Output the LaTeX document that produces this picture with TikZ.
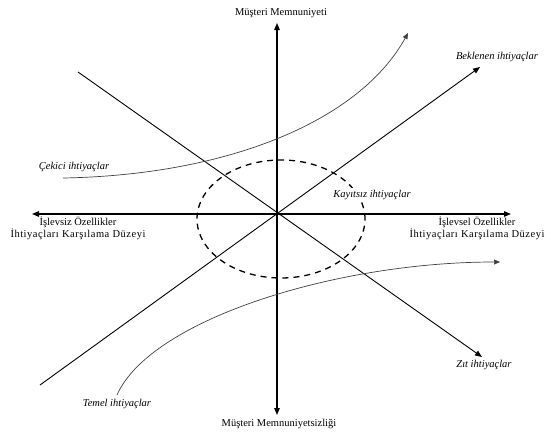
\documentclass[tikz,border=0pt]{standalone}
\usepackage{fontspec}
\setmainfont{Liberation Serif}
\newfontfamily\widefont[LetterSpace=5]{Liberation Serif}
\usetikzlibrary{arrows.meta}
\begin{document}
\begin{tikzpicture}[x=1pt,y=-1pt,
  tip/.tip={Triangle[length=7pt,width=5.5pt]},
  axisline/.style={line width=1.3pt},
  diagline/.style={line width=0.9pt,-tip},
  needcurve/.style={line width=0.7pt,draw=black!75,-{Triangle[length=6pt,width=5pt]}},
  lbl/.style={inner sep=0pt,font=\fontsize{10.5}{12}\selectfont},
  ilbl/.style={inner sep=0pt,font=\fontsize{10.5}{12}\selectfont\itshape},
  zone/.style={line width=1.3pt,dash pattern=on 6pt off 5pt}]
\useasboundingbox (0,0) rectangle (551,434);
% axis end points
\coordinate (O) at (277,214);
\coordinate (top) at (277,23);
\coordinate (bot) at (277,415);
\coordinate (lft) at (32,214);
\coordinate (rgt) at (511,214);
% diagonals
\coordinate (bekS) at (40,385);
\coordinate (bekE) at (480,67);
\coordinate (zitS) at (78,72);
\coordinate (zitE) at (482,357);
% curves
\coordinate (cekS) at (63,178);
\coordinate (cekE) at (408,33);
\coordinate (temS) at (117,395);
\coordinate (temE) at (500,262);

% axes
\draw[axisline,tip-tip] (bot) -- (top);
\draw[axisline,tip-tip] (lft) -- (rgt);
% diagonals
\draw[diagline] (bekS) -- (bekE);
\draw[diagline] (zitS) -- (zitE);
% dashed ellipse
\draw[zone] (281,219) ellipse [x radius=84pt, y radius=59pt];
% curves
\draw[needcurve] (cekS) .. controls (230,175) and (360,120) .. (cekE);
\draw[needcurve] (temS) .. controls (150,320) and (335,262) .. (temE);

% labels
\node[lbl] (ltop) at (281,13) {Müşteri Memnuniyeti};
\node[lbl] (lbot) at (279,424) {Müşteri Memnuniyetsizliği};
\node[lbl,align=center] (lleft) at (78,228) {İşlevsiz Özellikler\\{\widefont İhtiyaçları Karşılama Düzeyi}};
\node[lbl,align=center] (lright) at (477,228) {İşlevsel Özellikler\\{\widefont İhtiyaçları Karşılama Düzeyi}};
\node[ilbl] (lbek) at (497,57) {Beklenen ihtiyaçlar};
\node[ilbl] (lzit) at (484,365) {Zıt ihtiyaçlar};
\node[ilbl,fill=white,inner sep=2pt] (lkay) at (372,195) {Kayıtsız ihtiyaçlar};
\node[ilbl] (lcek) at (74,167) {Çekici ihtiyaçlar};
\node[ilbl] (ltem) at (117,404) {Temel ihtiyaçlar};
\end{tikzpicture}
\end{document}
